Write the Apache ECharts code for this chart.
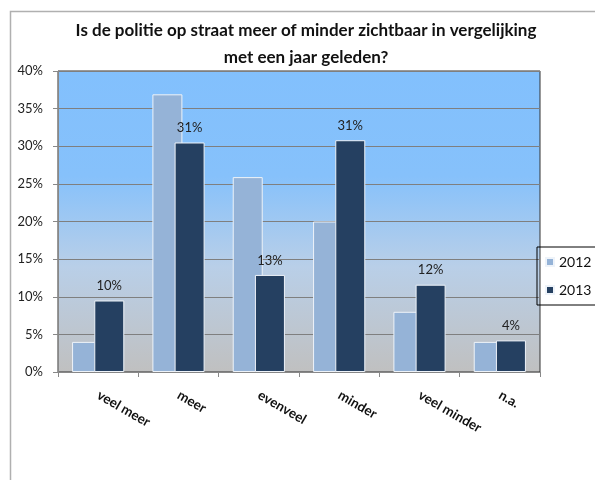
<!DOCTYPE html>
<html>
<head>
<meta charset="utf-8">
<script src="https://cdn.jsdelivr.net/npm/echarts@6/dist/echarts.min.js"></script>
<style>html,body{margin:0;padding:0;background:#fff;}#c{width:595px;height:480px;}</style>
</head>
<body>
<div id="c"></div>
<script>
const categories = ['veel meer', 'meer', 'evenveel', 'minder', 'veel minder', 'n.a.'];
const seriesNames = ['2012', '2013'];
const values2012 = [4, 36.9, 25.9, 20, 8, 4];
const values2013 = [9.5, 30.5, 12.9, 30.8, 11.6, 4.2];
const yTicks = { min: 0, max: 40, interval: 5 };
const titleText = 'Is de politie op straat meer of minder zichtbaar in vergelijking\nmet een jaar geleden?';

const FONT = 'Lato, "Liberation Sans", sans-serif';
const chart = echarts.init(document.getElementById('c'), null, { renderer: 'canvas' });
chart.setOption({
  animation: false,
  backgroundColor: '#ffffff',
  textStyle: { fontFamily: FONT },
  graphic: [{
    type: 'rect', left: 8, top: 9, z: -10, silent: true,
    shape: { width: 700, height: 600 },
    style: { fill: 'none', stroke: '#b0b0b0', lineWidth: 1.5 }
  }],
  title: {
    text: titleText,
    left: 301, top: 12, textAlign: 'center',
    textStyle: { fontFamily: FONT, fontSize: 17, fontWeight: 'bold', color: '#111', lineHeight: 27 }
  },
  legend: {
    orient: 'vertical', left: 537, top: 247,
    width: 45,
    padding: [8, 8, 8, 8],
    borderColor: '#000', borderWidth: 1,
    itemWidth: 8, itemHeight: 8, itemGap: 14, icon: 'rect',
    textStyle: { fontFamily: FONT, fontSize: 14, color: '#111' },
    data: seriesNames
  },
  grid: {
    left: 58, right: 55, top: 71, bottom: 108,
    show: true,
    borderColor: '#333', borderWidth: 1,
    backgroundColor: new echarts.graphic.LinearGradient(0, 0, 0, 1, [
      { offset: 0, color: '#82C0FD' },
      { offset: 0.35, color: '#86C1FB' },
      { offset: 0.65, color: '#B9CFE8' },
      { offset: 1, color: '#C0C0C0' }
    ])
  },
  xAxis: {
    type: 'category',
    data: categories,
    axisLine: { show: true, lineStyle: { color: '#888', width: 1 } },
    axisTick: { show: true, length: 5, lineStyle: { color: '#888' } },
    axisLabel: { rotate: -30, margin: 22, fontFamily: FONT, fontSize: 13.5, fontWeight: 'bold', color: '#111', interval: 0 }
  },
  yAxis: {
    type: 'value',
    min: yTicks.min, max: yTicks.max, interval: yTicks.interval,
    axisLine: { show: true, lineStyle: { color: '#888', width: 1 } },
    axisTick: { show: true, length: 5, lineStyle: { color: '#888' } },
    axisLabel: { formatter: '{value}%', margin: 15, fontFamily: FONT, fontSize: 13, color: '#222' },
    splitLine: { show: true, lineStyle: { color: '#7f7f7f', width: 1 } }
  },
  series: [
    {
      name: seriesNames[0], type: 'bar', data: values2012,
      barWidth: 30, barGap: '-26%',
      itemStyle: { color: '#95B3D7', borderColor: '#EEF3F9', borderWidth: 1 }
    },
    {
      name: seriesNames[1], type: 'bar', data: values2013,
      barWidth: 30, barGap: '-26%',
      itemStyle: { color: '#254061', borderColor: '#EEF3F9', borderWidth: 1 },
      label: {
        show: true, position: 'top', distance: 8,
        formatter: p => Math.round(p.value) + '%',
        fontFamily: FONT, fontSize: 13, color: '#222'
      }
    }
  ]
});
</script>
</body>
</html>
